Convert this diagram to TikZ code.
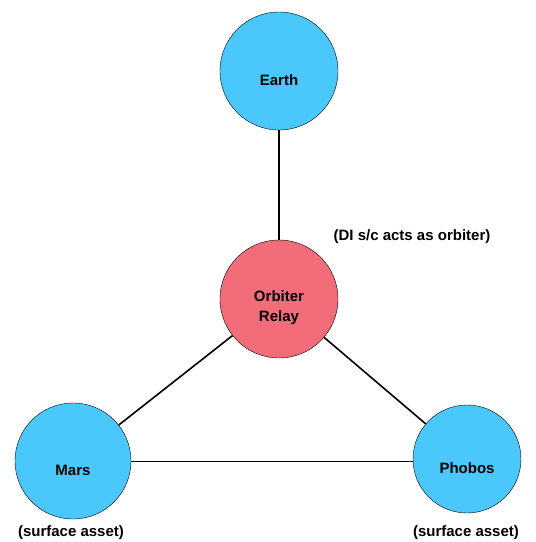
\documentclass[tikz,border=0pt]{standalone}
\usepackage{fontspec}
\setmainfont{Liberation Sans}
\begin{document}
\begin{tikzpicture}[x=1pt,y=-1pt,font=\bfseries\fontsize{15}{20}\selectfont]
    \definecolor{relay_blue}{RGB}{74,200,252}
    \definecolor{relay_red}{RGB}{242,108,122}
    \tikzset{body/.style={shape=circle,draw,inner sep=0pt,label={[yshift=-9pt,align=center]center:#1}}}
    \useasboundingbox (0,0) rectangle (536,542);
    \node[body=Earth,fill=relay_blue,minimum size=118pt] (earth) at (279,71) {};
    \node[body={Orbiter\\Relay},fill=relay_red,minimum size=118pt] (orbiter) at (279,299) {};
    \node[body=Mars,fill=relay_blue,minimum size=116pt] (mars) at (73,461) {};
    \node[body=Phobos,fill=relay_blue,minimum size=108pt] (phobos) at (467,459) {};
    \draw[line width=1.6pt] (earth) to (orbiter);
    \draw[line width=1.6pt] (orbiter) to (mars);
    \draw[line width=1.6pt] (orbiter) to (phobos);
    \draw[line width=0.8pt] (mars.east) to (mars.east -| phobos.west);
    \node (orbiternote) at (412,237) {(DI s/c acts as orbiter)};
    \node (marsnote) at (71,533) {(surface asset)};
    \node (phobosnote) at (466,533) {(surface asset)};
    \end{tikzpicture}
\end{document}
